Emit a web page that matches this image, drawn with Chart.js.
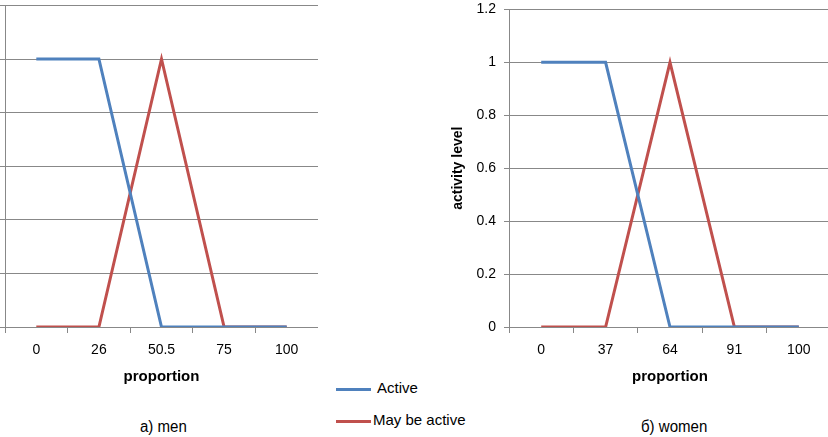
<html>
  <head>
    <script src="https://cdn.jsdelivr.net/npm/chart.js@4.4.0/dist/chart.umd.min.js"></script>
    <style>
      body { margin: 0; background: #fff; width: 828px; height: 437px; overflow: hidden; position: relative; font-family: "Liberation Sans", sans-serif; }
      canvas { position: absolute; }
      #menChart { left: -59px; top: -11px; }
      #womenChart { left: 445px; top: -7px; }
      .leg { position: absolute; font-size: 15px; color: #000; }
      .leg span { display: inline-block; width: 35px; height: 3px; vertical-align: middle; margin-right: 6px; }
      .cap { position: absolute; font-size: 16px; top: 418px; transform: scaleX(0.94); transform-origin: left top; }
    </style>
  </head>
  <body>
    <canvas id="menChart" width="377" height="398"></canvas>
    <canvas id="womenChart" width="386" height="394"></canvas>
    <div class="leg" style="left:336px; top:379px;"><span style="background:#4F81BD"></span>Active</div>
    <div class="leg" style="left:336px; top:411px;"><span style="background:#C0504D; margin-right:2px"></span>May be active</div>
    <div class="cap" style="left:140px;">a) men</div>
    <div class="cap" style="left:641px;">б) women</div>
    <script>
      var menLabels = ["0", "26", "50.5", "75", "100"];
      var menActive = [1, 1, 0, 0, 0];
      var menMaybe = [0, 0, 1, 0, 0];

      var womenLabels = ["0", "37", "64", "91", "100"];
      var womenActive = [1, 1, 0, 0, 0];
      var womenMaybe = [0, 0, 1, 0, 0];

      var gridColor = "#888888";
      var tickFont = { family: "Liberation Sans", size: 14 };

      function makeChart(id, labels, active, maybe) {
        var ctx = document.getElementById(id).getContext("2d");
        return new Chart(ctx, {
          type: "line",
          data: {
            labels: labels,
            datasets: [
              { label: "Active", data: active, borderColor: "#4F81BD", borderWidth: 3, pointRadius: 0, tension: 0 },
              { label: "May be active", data: maybe, borderColor: "#C0504D", borderWidth: 3, pointRadius: 0, tension: 0 }
            ]
          },
          options: {
            responsive: false,
            animation: false,
            layout: { padding: 0 },
            plugins: { legend: { display: false }, tooltip: { enabled: false } },
            scales: {
              x: {
                offset: true,
                grid: { offset: true, drawOnChartArea: false, drawTicks: true, tickLength: 6, color: gridColor },
                border: { color: gridColor },
                ticks: { color: "#000", font: tickFont, padding: 9 },
                title: { display: true, text: "proportion", color: "#000", font: { family: "Liberation Sans", size: 15, weight: "bold" }, padding: { top: 0, bottom: 1 } },
                afterFit: function (s) { s.height = 60; }
              },
              y: {
                min: 0,
                max: 1.2,
                ticks: { stepSize: 0.2, color: "#000", font: tickFont, padding: 8,
                  callback: function (v) { return String(Number(v.toFixed(1))); } },
                grid: { color: gridColor, tickLength: 5 },
                border: { color: gridColor },
                title: { display: true, text: "activity level", color: "#000", font: { family: "Liberation Sans", size: 14, weight: "bold" }, padding: { top: 5, bottom: 0 } },
                afterFit: function (s) { s.width = 64; }
              }
            }
          }
        });
      }

      makeChart("menChart", menLabels, menActive, menMaybe);
      makeChart("womenChart", womenLabels, womenActive, womenMaybe);
    </script>
  </body>
</html>
